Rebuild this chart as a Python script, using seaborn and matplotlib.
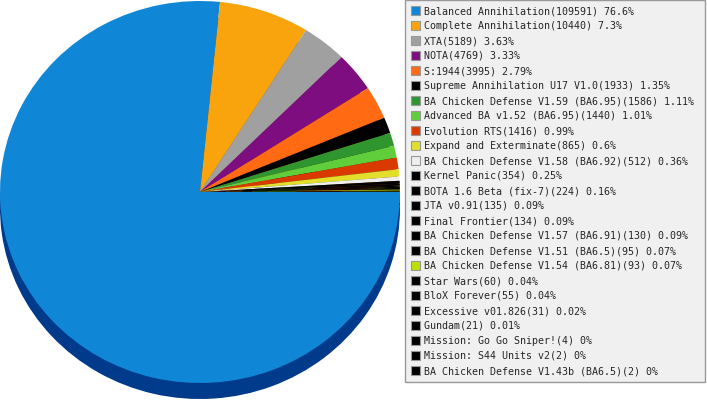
import matplotlib
matplotlib.use("Agg")
import matplotlib.pyplot as plt
import matplotlib.colors as mcolors
import colorsys
import seaborn as sns

names = [
    "Balanced Annihilation", "Complete Annihilation", "XTA", "NOTA", "S:1944",
    "Supreme Annihilation U17 V1.0", "BA Chicken Defense V1.59 (BA6.95)",
    "Advanced BA v1.52 (BA6.95)", "Evolution RTS", "Expand and Exterminate",
    "BA Chicken Defense V1.58 (BA6.92)", "Kernel Panic", "BOTA 1.6 Beta (fix-7)",
    "JTA v0.91", "Final Frontier", "BA Chicken Defense V1.57 (BA6.91)",
    "BA Chicken Defense V1.51 (BA6.5)", "BA Chicken Defense V1.54 (BA6.81)",
    "Star Wars", "BloX Forever", "Excessive v01.826", "Gundam",
    "Mission: Go Go Sniper!", "Mission: S44 Units v2", "BA Chicken Defense V1.43b (BA6.5)",
]
counts = [109591, 10440, 5189, 4769, 3995, 1933, 1586, 1440, 1416, 865, 512, 354, 224,
          135, 134, 130, 95, 93, 60, 55, 31, 21, 4, 2, 2]
colors = ["#1086D6", "#F9A40D", "#A0A0A0", "#7E0D80", "#FF6A12", "#000000", "#2F952F",
          "#60CD3A", "#DA3A00", "#E3DE2A", "#EEEEEE", "#000000", "#000000", "#000000",
          "#000000", "#000000", "#000000", "#BCE000", "#000000", "#000000", "#000000",
          "#000000", "#000000", "#000000", "#000000"]

sns.set_theme(style="white")
plt.rcParams["font.family"] = ["DejaVu Sans Mono", "DejaVu Sans"]

W, H = 707, 400
fig = plt.figure(figsize=(W / 100, H / 100), dpi=100)
fig.patch.set_facecolor("white")

def darken(c):
    r, g, b = mcolors.to_rgb(c)
    h, l, s = colorsys.rgb_to_hls(r, g, b)
    return colorsys.hls_to_rgb(h, l * 0.6, min(1.0, s * 1.05))

shadow_colors = ["#003A8A"] + [darken(c) for c in colors[1:]]

# pie axes occupying pixel columns 0..400
ax = fig.add_axes([0, 0, 400 / W, 1])
cx_px, cy_px, rx_px, ry_px = 200, 192, 200, 191
depth_px = 16
ax.pie(counts, colors=shadow_colors, startangle=0, counterclock=False,
       radius=1, center=(0, -depth_px / ry_px), wedgeprops=dict(linewidth=0))
wedges, _ = ax.pie(counts, colors=colors, startangle=0, counterclock=False,
                   radius=1, center=(0, 0), wedgeprops=dict(linewidth=0))
ax.set_aspect("auto")
ax.set_xlim(-cx_px / rx_px, (400 - cx_px) / rx_px)
ax.set_ylim(-(H - cy_px) / ry_px, cy_px / ry_px)
ax.axis("off")

total = sum(counts)
labels = []
for n, c in zip(names, counts):
    p = round(c / total * 100, 2)
    labels.append(f"{n}({c}) {p:g}%")

leg = fig.legend(wedges, labels, loc="upper left",
                 bbox_to_anchor=(405 / W, 1.0, 300 / W, 0), mode="expand",
                 prop=dict(family="DejaVu Sans Mono", size=7.2),
                 frameon=True, fancybox=False, facecolor="#F0F0F0", edgecolor="#999999",
                 framealpha=1, handlelength=0.9, handleheight=0.9, handletextpad=0.4,
                 labelspacing=0.5, borderpad=0.6, borderaxespad=0)
leg.get_frame().set_linewidth(1)
for h in leg.legend_handles:
    h.set_edgecolor("#999999")
    h.set_linewidth(0.8)

fig.savefig("out.png", dpi=100)
